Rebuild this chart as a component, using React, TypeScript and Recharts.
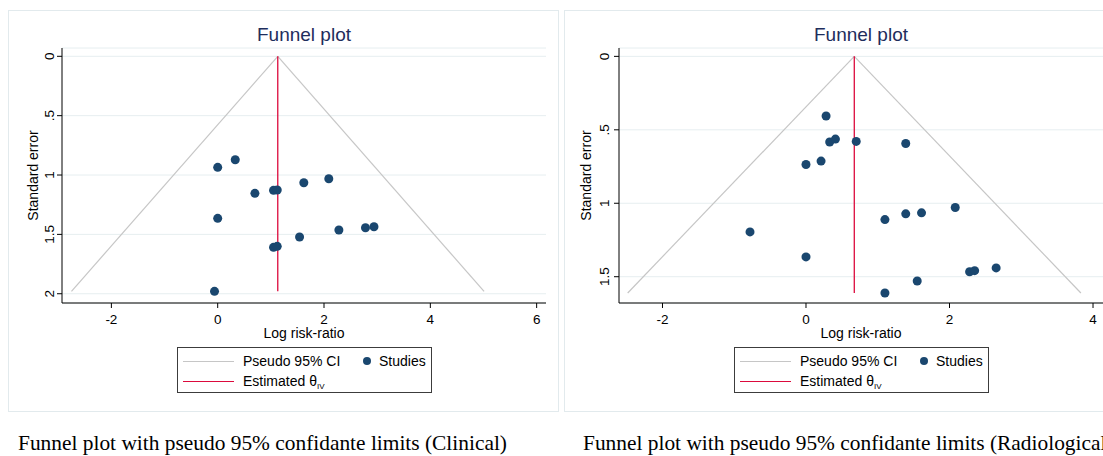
import React from 'react';
import { ScatterChart, Scatter, XAxis, YAxis, CartesianGrid, ReferenceLine, Label } from 'recharts';

const SANS = "'Liberation Sans', Arial, Helvetica, sans-serif";
const SERIF = "'Liberation Serif', 'Times New Roman', serif";

// Clinical studies (log risk-ratio, standard error)
const clinicalLogRR = [0, 0.33, 0.7, 1.05, 1.12, 1.62, 2.09, 0, 1.54, 2.28, 2.78, 2.94, 1.05, 1.12, -0.06];
const clinicalSE = [0.935, 0.871, 1.154, 1.129, 1.126, 1.065, 1.031, 1.365, 1.522, 1.463, 1.444, 1.436, 1.609, 1.601, 1.98];
const clinicalTheta = 1.13;

// Radiological studies
const radioLogRR = [0.28, 0.33, 0.41, 0.7, 1.39, 0, 0.21, 1.1, 1.39, 1.61, 2.08, -0.78, 0, 2.28, 2.35, 2.65, 1.55, 1.1];
const radioSE = [0.406, 0.583, 0.563, 0.579, 0.593, 0.736, 0.713, 1.111, 1.072, 1.065, 1.029, 1.195, 1.365, 1.466, 1.459, 1.44, 1.529, 1.611];
const radioTheta = 0.673;

const clinicalXTicks = [-2, 0, 2, 4, 6];
const radioXTicks = [-2, 0, 2, 4];
const clinicalYTicks = [0, 0.5, 1, 1.5, 2];
const radioYTicks = [0, 0.5, 1, 1.5];
const yTickLabels: Record<string, string> = { '0': '0', '0.5': '.5', '1': '1', '1.5': '1.5', '2': '2' };

const NAVY = '#1a476f';
const RED = '#dc0a3c';
const CI_GRAY = '#c6c6c6';
const GRID = '#e6eef0';
const Z = 1.96;

interface PanelProps {
  left: number;
  logRR: number[];
  se: number[];
  theta: number;
  xDomain: [number, number];
  xTicks: number[];
  yDomain: [number, number];
  yTicks: number[];
  caption: string;
  captionX: number;
  borderX: number;
  yTickGap: number;
  yTitleX: number;
}

function FunnelPanel(p: PanelProps) {
  const points = p.logRR.map((x, i) => ({ x, y: p.se[i] }));
  const maxSe = Math.max(...p.se);
  const ciLo = p.theta - Z * maxSe;
  const ciHi = p.theta + Z * maxSe;

  const YTick = (props: any) => {
    const { x, y, payload } = props;
    return (
      <text x={x} y={y} transform={`rotate(-90 ${x} ${y})`} textAnchor="middle" fontSize={13.5} fontFamily={SANS} fill="#000">
        {yTickLabels[String(payload.value)]}
      </text>
    );
  };

  return (
    <div style={{ position: 'absolute', left: p.left, top: 0, width: 560, height: 456 }}>
      <svg width={560} height={456} style={{ position: 'absolute', left: 0, top: 0 }}>
        <rect x={p.borderX + 0.5} y={10.5} width={550} height={401} fill="#fff" stroke="#e2eaed" />
        <text x={304} y={40.5} textAnchor="middle" fontSize={19} fontFamily={SANS} fill="#1e2d5c">Funnel plot</text>
        <rect x={177.5} y={347.5} width={254} height={45} fill="#fff" stroke="#3c3c3c" />
        <line x1={183} x2={234} y1={361.5} y2={361.5} stroke={CI_GRAY} strokeWidth={1.2} />
        <text x={243} y={366} fontSize={14} fontFamily={SANS} fill="#000">Pseudo 95% CI</text>
        <circle cx={367} cy={361} r={4} fill={NAVY} />
        <text x={379} y={366} fontSize={14} fontFamily={SANS} fill="#000">Studies</text>
        <line x1={183} x2={234} y1={381.5} y2={381.5} stroke={RED} strokeWidth={1.2} />
        <text x={243} y={386} fontSize={14} fontFamily={SANS} fill="#000">
          Estimated θ<tspan fontSize={8} dy={3}>IV</tspan>
        </text>
        <text x={p.captionX} y={450} fontSize={21.4} fontFamily={SERIF} fill="#000">{p.caption}</text>
      </svg>
      <div style={{ position: 'absolute', left: 0, top: 0 }}>
        <ScatterChart width={560} height={420} margin={{ top: 48, right: 14, bottom: 77, left: 0 }}>
          <CartesianGrid horizontal vertical={false} stroke={GRID} />
          <XAxis
            type="number"
            dataKey="x"
            domain={p.xDomain}
            allowDataOverflow
            ticks={p.xTicks}
            height={40}
            tickSize={5}
            tickMargin={6}
            stroke="#000"
            tick={{ fill: '#000', fontSize: 13.5, fontFamily: SANS }}
          >
            <Label
              content={(lp: any) => {
                const vb = lp.viewBox;
                return (
                  <text x={vb.x + vb.width / 2} y={vb.y + 35} textAnchor="middle" fontSize={14} fontFamily={SANS} fill="#000">
                    Log risk-ratio
                  </text>
                );
              }}
            />
          </XAxis>
          <YAxis
            type="number"
            dataKey="y"
            reversed
            domain={p.yDomain}
            allowDataOverflow
            ticks={p.yTicks}
            width={62}
            tickSize={5}
            tickMargin={p.yTickGap}
            stroke="#000"
            tick={<YTick />}
          >
            <Label
              content={(lp: any) => {
                const vb = lp.viewBox;
                const cy = vb.y + vb.height / 2;
                return (
                  <text x={p.yTitleX} y={cy} transform={`rotate(-90 ${p.yTitleX} ${cy})`} textAnchor="middle" fontSize={14} fontFamily={SANS} fill="#000">
                    Standard error
                  </text>
                );
              }}
            />
          </YAxis>
          <ReferenceLine segment={[{ x: p.theta, y: 0 }, { x: ciLo, y: maxSe }]} stroke={CI_GRAY} strokeWidth={1.2} />
          <ReferenceLine segment={[{ x: p.theta, y: 0 }, { x: ciHi, y: maxSe }]} stroke={CI_GRAY} strokeWidth={1.2} />
          <Scatter
            data={points}
            isAnimationActive={false}
            shape={(sp: any) => <circle cx={sp.cx} cy={sp.cy} r={4.5} fill={NAVY} />}
          />
          <ReferenceLine segment={[{ x: p.theta, y: 0 }, { x: p.theta, y: maxSe }]} stroke={RED} strokeWidth={1.3} />
        </ScatterChart>
      </div>
    </div>
  );
}

export default function App() {
  return (
    <div style={{ position: 'absolute', left: 0, top: 0, width: 1103, height: 456, overflow: 'hidden', background: '#fff' }}>
      <FunnelPanel
        left={0}
        logRR={clinicalLogRR}
        se={clinicalSE}
        theta={clinicalTheta}
        xDomain={[-2.929, 6.176]}
        xTicks={clinicalXTicks}
        yDomain={[-0.07, 2.078]}
        yTicks={clinicalYTicks}
        caption="Funnel plot with pseudo 95% confidante limits (Clinical)"
        captionX={18}
        borderX={8}
        yTickGap={3}
        yTitleX={38}
      />
      <FunnelPanel
        left={557}
        logRR={radioLogRR}
        se={radioSE}
        theta={radioTheta}
        xDomain={[-2.606, 4.139]}
        xTicks={radioXTicks}
        yDomain={[-0.057, 1.679]}
        yTicks={radioYTicks}
        caption="Funnel plot with pseudo 95% confidante limits (Radiological)"
        captionX={26}
        borderX={7}
        yTickGap={5}
        yTitleX={34}
      />
    </div>
  );
}
